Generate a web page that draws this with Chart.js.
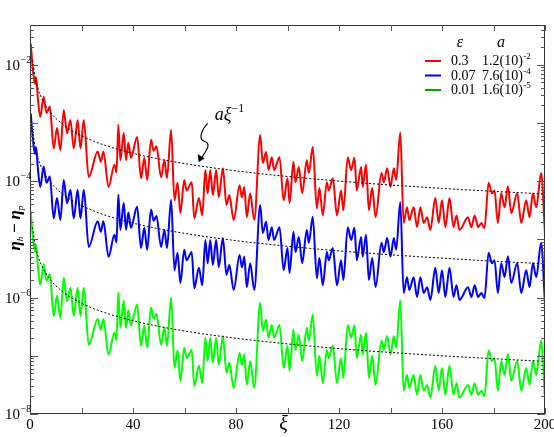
<!DOCTYPE html>
<html><head><meta charset="utf-8">
<script src="https://cdn.jsdelivr.net/npm/chart.js@4.4.0/dist/chart.umd.min.js"></script>
<style>html,body{margin:0;padding:0;background:#fff}#wrap{width:554px;height:437px;position:relative}</style>
</head><body><div id="wrap"><canvas id="c" width="554" height="437"></canvas></div>
<script>
// ---------- data ----------
const xi = [0.3,1.0,1.6,2.0,2.4,3.0,4.0,5.3,6.4,7.7,9.2,10.5,11.8,13.1,14.4,15.7,17.0,18.5,19.6,20.9,22.8,26.3,27.5,28.5,30.5,32.8,33.6,34.3,35.1,36.4,37.3,38.2,39.2,41.6,43.1,44.4,45.5,47.0,48.0,49.1,50.9,52.2,53.2,54.8,56.1,57.3,58.4,59.9,60.8,62.8,63.8,65.6,66.9,68.1,69.0,70.0,71.0,72.3,73.3,74.9,76.3,77.4,79.1,81.4,82.3,83.2,84.2,85.5,87.1,89.4,90.4,91.7,92.6,93.9,94.8,96.9,98.5,100.0,100.8,102.3,103.1,104.4,105.7,107.5,108.3,109.8,111.4,112.4,113.7,115.3,116.0,117.6,119.2,120.8,121.7,123.4,124.7,126.0,126.9,128.6,129.2,130.5,131.6,132.9,134.2,136.5,137.4,138.7,140.0,141.3,142.2,143.8,145.1,146.4,147.3,149.0,150.3,151.6,152.9,154.2,155.5,157.4,158.7,160.0,161.3,162.9,164.5,165.6,166.8,170.1,171.4,172.7,174.0,175.3,176.5,178.1,179.4,180.4,181.7,183.0,184.3,185.6,186.9,189.2,190.8,192.7,194.0,195.3,196.6,198.5,200.0];

const redVals = [2.29e-2,9.33e-3,5.50e-3,4.68e-3,6.03e-3,2.82e-3,1.26e-3,2.82e-3,1.48e-3,1.91e-3,3.63e-4,8.13e-4,3.39e-4,1.66e-3,6.61e-4,1.12e-3,3.63e-4,1.12e-3,3.63e-4,1.12e-3,1.17e-4,3.24e-4,2.14e-4,3.24e-4,7.94e-5,1.91e-4,1.41e-4,9.33e-4,2.29e-4,6.76e-4,2.29e-4,4.57e-4,2.51e-4,5.75e-4,1.12e-4,2.51e-4,1.05e-4,5.13e-4,3.31e-4,3.98e-4,1.17e-4,2.29e-4,1.12e-4,7.59e-4,4.68e-5,9.33e-5,2.82e-5,1.05e-4,6.92e-5,9.55e-5,2.29e-5,5.13e-5,2.57e-5,1.55e-4,6.17e-5,1.55e-4,5.75e-5,1.55e-4,5.25e-5,1.66e-4,3.89e-5,5.75e-5,2.14e-5,8.51e-5,5.25e-5,7.94e-5,2.40e-5,6.17e-5,2.14e-5,6.17e-4,2.04e-4,3.16e-4,1.55e-4,2.57e-4,1.55e-4,2.57e-4,4.68e-5,1.12e-4,4.17e-5,2.14e-4,9.55e-5,1.74e-4,6.17e-5,2.29e-4,1.38e-4,3.89e-4,3.39e-5,7.59e-5,2.57e-5,9.55e-5,6.92e-5,1.12e-4,2.57e-5,6.92e-5,3.16e-5,2.57e-4,1.55e-4,2.51e-4,6.92e-5,1.74e-4,7.94e-5,1.91e-4,3.16e-5,7.59e-5,2.40e-5,1.38e-4,9.55e-5,1.66e-4,7.94e-5,1.66e-4,1.05e-4,6.92e-4,1.91e-5,3.55e-5,2.14e-5,3.55e-5,1.62e-5,3.55e-5,1.91e-5,2.40e-5,1.45e-5,5.13e-5,1.91e-5,4.68e-5,1.62e-5,5.13e-5,1.62e-5,2.57e-5,1.45e-5,2.40e-5,1.62e-5,2.57e-5,1.62e-5,1.91e-5,1.55e-5,9.33e-5,6.17e-5,6.92e-5,1.91e-5,6.17e-5,3.55e-5,8.13e-5,2.82e-5,6.17e-5,1.91e-5,4.68e-5,2.40e-5,6.17e-5,3.55e-5,1.38e-4,1.26e-5];

const blueVals = [1.45e-3,5.89e-4,3.47e-4,2.95e-4,3.80e-4,1.78e-4,7.94e-5,1.78e-4,9.33e-5,1.20e-4,2.29e-5,5.13e-5,2.14e-5,1.05e-4,4.17e-5,7.08e-5,2.29e-5,7.08e-5,2.29e-5,7.08e-5,7.41e-6,2.04e-5,1.35e-5,2.04e-5,5.01e-6,1.20e-5,8.91e-6,5.89e-5,1.45e-5,4.27e-5,1.45e-5,2.88e-5,1.58e-5,3.63e-5,7.08e-6,1.58e-5,6.61e-6,3.24e-5,2.09e-5,2.51e-5,7.41e-6,1.45e-5,7.08e-6,4.79e-5,2.95e-6,5.89e-6,1.78e-6,6.61e-6,4.37e-6,6.03e-6,1.45e-6,3.24e-6,1.62e-6,9.77e-6,3.89e-6,9.77e-6,3.63e-6,9.77e-6,3.31e-6,1.05e-5,2.45e-6,3.63e-6,1.35e-6,5.37e-6,3.31e-6,5.01e-6,1.51e-6,3.89e-6,1.35e-6,3.89e-5,1.29e-5,2.00e-5,9.77e-6,1.62e-5,9.77e-6,1.62e-5,2.95e-6,7.08e-6,2.63e-6,1.35e-5,6.03e-6,1.10e-5,3.89e-6,1.45e-5,8.71e-6,2.45e-5,2.14e-6,4.79e-6,1.62e-6,6.03e-6,4.37e-6,7.08e-6,1.62e-6,4.37e-6,2.00e-6,1.62e-5,9.77e-6,1.58e-5,4.37e-6,1.10e-5,5.01e-6,1.20e-5,2.00e-6,4.79e-6,1.51e-6,8.71e-6,6.03e-6,1.05e-5,5.01e-6,1.05e-5,6.61e-6,4.37e-5,1.20e-6,2.24e-6,1.35e-6,2.24e-6,1.02e-6,2.24e-6,1.20e-6,1.51e-6,9.12e-7,3.24e-6,1.20e-6,2.95e-6,1.02e-6,3.24e-6,1.02e-6,1.62e-6,9.12e-7,1.51e-6,1.02e-6,1.62e-6,1.02e-6,1.20e-6,9.77e-7,5.89e-6,3.89e-6,4.37e-6,1.20e-6,3.89e-6,2.24e-6,5.13e-6,1.78e-6,3.89e-6,1.20e-6,2.95e-6,1.51e-6,3.89e-6,2.24e-6,8.71e-6,7.94e-7];

const greenVals = [3.02e-5,1.23e-5,7.24e-6,6.17e-6,7.94e-6,3.72e-6,1.66e-6,3.72e-6,1.95e-6,2.51e-6,4.79e-7,1.07e-6,4.47e-7,2.19e-6,8.71e-7,1.48e-6,4.79e-7,1.48e-6,4.79e-7,1.48e-6,1.55e-7,4.27e-7,2.82e-7,4.27e-7,1.05e-7,2.51e-7,1.86e-7,1.23e-6,3.02e-7,8.91e-7,3.02e-7,6.03e-7,3.31e-7,7.59e-7,1.48e-7,3.31e-7,1.38e-7,6.76e-7,4.37e-7,5.25e-7,1.55e-7,3.02e-7,1.48e-7,1.00e-6,6.17e-8,1.23e-7,3.72e-8,1.38e-7,9.12e-8,1.26e-7,3.02e-8,6.76e-8,3.39e-8,2.04e-7,8.13e-8,2.04e-7,7.59e-8,2.04e-7,6.92e-8,2.19e-7,5.13e-8,7.59e-8,2.82e-8,1.12e-7,6.92e-8,1.05e-7,3.16e-8,8.13e-8,2.82e-8,8.13e-7,2.69e-7,4.17e-7,2.04e-7,3.39e-7,2.04e-7,3.39e-7,6.17e-8,1.48e-7,5.50e-8,2.82e-7,1.26e-7,2.29e-7,8.13e-8,3.02e-7,1.82e-7,5.13e-7,4.47e-8,1.00e-7,3.39e-8,1.26e-7,9.12e-8,1.48e-7,3.39e-8,9.12e-8,4.17e-8,3.39e-7,2.04e-7,3.31e-7,9.12e-8,2.29e-7,1.05e-7,2.51e-7,4.17e-8,1.00e-7,3.16e-8,1.82e-7,1.26e-7,2.19e-7,1.05e-7,2.19e-7,1.38e-7,9.12e-7,2.51e-8,4.68e-8,2.82e-8,4.68e-8,2.14e-8,4.68e-8,2.51e-8,3.16e-8,1.91e-8,6.76e-8,2.51e-8,6.17e-8,2.14e-8,6.76e-8,2.14e-8,3.39e-8,1.91e-8,3.16e-8,2.14e-8,3.39e-8,2.14e-8,2.51e-8,2.04e-8,1.23e-7,8.13e-8,9.12e-8,2.51e-8,8.13e-8,4.68e-8,1.07e-7,3.72e-8,8.13e-8,2.51e-8,6.17e-8,3.16e-8,8.13e-8,4.68e-8,1.82e-7,1.66e-8];

// dotted reference curves a*xi^-1 (values listed at sample abscissae)
const fitXi = [1,2,3,4,6,8,10,13,16,20,25,30,40,50,65,80,100,120,140,160,180,200];
const redFit = [1.2e-2,6e-3,4e-3,3e-3,2e-3,1.5e-3,1.2e-3,9.23e-4,7.5e-4,6e-4,4.8e-4,4e-4,3e-4,2.4e-4,1.846e-4,1.5e-4,1.2e-4,1e-4,8.57e-5,7.5e-5,6.67e-5,6e-5];
const blueFit = [7.6e-4,3.8e-4,2.53e-4,1.9e-4,1.267e-4,9.5e-5,7.6e-5,5.85e-5,4.75e-5,3.8e-5,3.04e-5,2.53e-5,1.9e-5,1.52e-5,1.17e-5,9.5e-6,7.6e-6,6.33e-6,5.43e-6,4.75e-6,4.22e-6,3.8e-6];
const greenFit = [1.6e-5,8e-6,5.33e-6,4e-6,2.67e-6,2e-6,1.6e-6,1.23e-6,1e-6,8e-7,6.4e-7,5.33e-7,4e-7,3.2e-7,2.46e-7,2e-7,1.6e-7,1.33e-7,1.14e-7,1e-7,8.9e-8,8e-8];

// legend table
const epsLabels = ['0.3','0.07','0.01'];
const aBase = ['1.2(10)','7.6(10)','1.6(10)'];
const aExp = ['-2','-4','-5'];
const legendColors = ['#ff0000','#0000ff','#00a800'];
const lineColors = ['#ff0000','#0000ff','#00ff00'];

// axis ticks
const xTickVals = [0,20,40,60,80,100,120,140,160,180,200];
const xLabelStep = 40;
const yLabelExps = [-2,-4,-6,-8];
const yMin = 1e-8, yMax = 0.048;

// annotation anchor (arrow tip), in data units
const annotXi = 65.5, annotVal = 2.1e-4;

const SERIF = '"Liberation Serif"';

function pts(xs, ys){ return xs.map((x,i)=>({x:x, y:ys[i]})); }

const yTickVals = [];
for (let e = -8; e <= -2; e++) for (let m = 1; m <= 9; m++) { const v = Number(m + 'e' + e); if (v <= yMax) yTickVals.push({v:v, major:m===1}); }

const decor = {
  id: 'decor',
  afterDraw(chart) {
    const ctx = chart.ctx, a = chart.chartArea, sx = chart.scales.x, sy = chart.scales.y;
    ctx.save();
    ctx.strokeStyle = '#333'; ctx.lineWidth = 1;
    ctx.strokeRect(a.left + 0.5, a.top + 0.5, a.right - a.left - 1, a.bottom - a.top - 1);
    ctx.strokeStyle = '#555';
    ctx.beginPath();
    xTickVals.forEach(v => {
      const px = Math.round(sx.getPixelForValue(v)) + 0.5;
      ctx.moveTo(px, a.bottom); ctx.lineTo(px, a.bottom - 6);
      ctx.moveTo(px, a.top); ctx.lineTo(px, a.top + 6);
    });
    yTickVals.forEach(t => {
      const py = Math.round(sy.getPixelForValue(t.v)) + 0.5;
      const L = t.major ? 8 : 4;
      ctx.moveTo(a.left, py); ctx.lineTo(a.left + L, py);
      ctx.moveTo(a.right, py); ctx.lineTo(a.right - L, py);
    });
    ctx.stroke();

    // y tick labels 10^e
    ctx.fillStyle = '#000'; ctx.textBaseline = 'alphabetic'; ctx.textAlign = 'left';
    yLabelExps.forEach(e => {
      const py = sy.getPixelForValue(Number('1e' + e));
      ctx.font = '15px ' + SERIF;
      const w = ctx.measureText('10').width;
      const x0 = a.left - 25;
      ctx.fillText('10', x0, py + 5);
      ctx.font = '10px ' + SERIF;
      ctx.fillText('\u2212' + (-e), x0 + w + 0.5, py - 2);
    });

    // x title
    ctx.font = 'italic 20px ' + SERIF; ctx.textAlign = 'center';
    ctx.fillText('\u03be', (a.left + a.right) / 2 - 4, 430);

    // y title (rotated)
    ctx.save();
    ctx.translate(20, (a.top + a.bottom) / 2 + 31);
    ctx.rotate(-Math.PI / 2);
    ctx.textAlign = 'left';
    let cx = 0;
    const big = 'italic bold 17px ' + SERIF, small = 'italic 9px ' + SERIF;
    const parts = [['\u03b7', big, 0], ['h', small, 3], ['\u2009\u2212\u2009', big, 0], ['\u03b7', big, 0], ['p', small, 3]];
    parts.forEach(p => { ctx.font = p[1]; ctx.fillText(p[0], cx, p[2]); cx += ctx.measureText(p[0]).width; });
    ctx.restore();

    // legend table
    const lx = a.right - 120, hy = a.top + 22;
    ctx.textAlign = 'center';
    ctx.font = 'italic 16px ' + SERIF;
    ctx.fillText('\u03b5', lx + 35, hy);
    ctx.fillText('a', lx + 76, hy);
    ctx.textAlign = 'left';
    for (let i = 0; i < 3; i++) {
      const ry = hy + 18 + i * 14.5;
      ctx.strokeStyle = legendColors[i]; ctx.lineWidth = 2;
      ctx.beginPath(); ctx.moveTo(lx, ry - 4); ctx.lineTo(lx + 16, ry - 4); ctx.stroke();
      ctx.font = '14px ' + SERIF;
      ctx.fillText(epsLabels[i], lx + 26, ry);
      ctx.fillText(aBase[i], lx + 57, ry);
      const w = ctx.measureText(aBase[i]).width;
      ctx.font = '9px ' + SERIF;
      ctx.fillText(aExp[i], lx + 57 + w + 0.5, ry - 6);
    }

    // annotation a xi^-1 with curly arrow
    const tx = sx.getPixelForValue(annotXi), ty = sy.getPixelForValue(annotVal);
    ctx.font = 'italic 18px ' + SERIF;
    ctx.fillText('a\u03be', tx + 16, ty - 42);
    const wa = ctx.measureText('a\u03be').width;
    ctx.font = '12px ' + SERIF;
    ctx.fillText('\u22121', tx + 16 + wa, ty - 50);
    ctx.strokeStyle = '#000'; ctx.lineWidth = 1.2;
    ctx.beginPath();
    ctx.moveTo(tx + 9, ty - 39);
    ctx.bezierCurveTo(tx + 4, ty - 34, tx + 1, ty - 27, tx + 3, ty - 23);
    ctx.bezierCurveTo(tx + 5, ty - 20, tx + 11, ty - 21, tx + 9, ty - 15);
    ctx.bezierCurveTo(tx + 7, ty - 10, tx + 4, ty - 6, tx + 1, ty - 2);
    ctx.stroke();
    ctx.fillStyle = '#000';
    ctx.beginPath();
    ctx.moveTo(tx, ty); ctx.lineTo(tx - 1, ty - 8); ctx.lineTo(tx + 6, ty - 4); ctx.closePath(); ctx.fill();
    ctx.restore();
  }
};

const fitStyle = { showLine:true, pointRadius:0, borderColor:'#000', borderWidth:1, borderDash:[2,2], cubicInterpolationMode:'monotone', fill:false };
const serStyle = (c) => ({ showLine:true, pointRadius:0, borderColor:c, borderWidth:2, cubicInterpolationMode:'monotone', fill:false });

new Chart(document.getElementById('c'), {
  type: 'scatter',
  data: { datasets: [
    Object.assign({ label:'fit red', data: pts(fitXi, redFit) }, fitStyle),
    Object.assign({ label:'fit blue', data: pts(fitXi, blueFit) }, fitStyle),
    Object.assign({ label:'fit green', data: pts(fitXi, greenFit) }, fitStyle),
    Object.assign({ label:'0.3', data: pts(xi, redVals) }, serStyle(lineColors[0])),
    Object.assign({ label:'0.07', data: pts(xi, blueVals) }, serStyle(lineColors[1])),
    Object.assign({ label:'0.01', data: pts(xi, greenVals) }, serStyle(lineColors[2]))
  ]},
  options: {
    responsive:false, animation:false, devicePixelRatio:1,
    layout: { padding: { left:30, top:25, right:9, bottom:0 } },
    plugins: { legend:{ display:false }, tooltip:{ enabled:false } },
    scales: {
      x: { type:'linear', min:0, max:200,
        afterBuildTicks: s => { s.ticks = xTickVals.map(v => ({ value:v })); },
        ticks: { autoSkip:false, maxRotation:0, padding:2, color:'#000', font:{ family:'Liberation Serif', size:15 },
          callback: v => (v % xLabelStep === 0 ? String(v) : '') },
        grid: { display:false, drawTicks:false }, border: { display:false },
        afterFit: s => { s.height = 23; s.paddingLeft = 0; s.paddingRight = 0; } },
      y: { type:'logarithmic', min:yMin, max:yMax,
        ticks: { display:false }, grid: { display:false, drawTicks:false }, border: { display:false },
        afterFit: s => { s.width = 0; } }
    }
  },
  plugins: [decor]
});
</script>
</body></html>
